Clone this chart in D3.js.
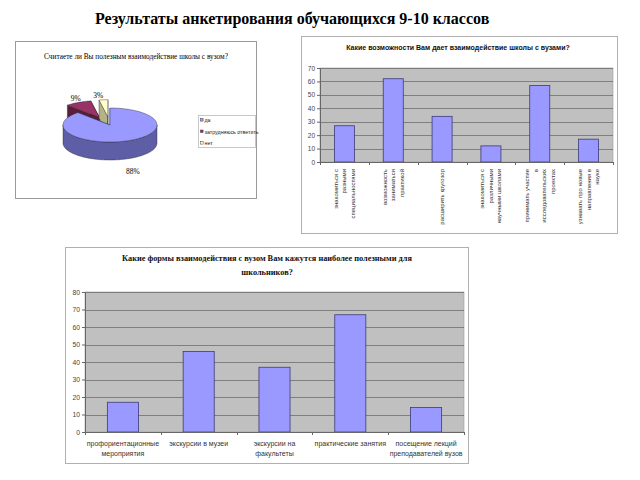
<!DOCTYPE html>
<html><head><meta charset="utf-8">
<script src="https://cdn.jsdelivr.net/npm/d3@7"></script>
<style>html,body{margin:0;padding:0;background:#fff;}svg{display:block;}</style>
</head><body>
<script>
// ---------- DATA ----------
const mainTitle = "Результаты анкетирования обучающихся 9-10 классов";

const pieTitle = "Считаете ли Вы полезным взаимодействие школы с вузом?";
const pieCategories = ["да", "затрудняюсь ответить", "нет"];
const pieValues = [88, 9, 3];
const pieColors = ["#9999FF", "#993366", "#FFFFCC"];
const pieSideColors = ["#5E5EA6", "#5A1E3C", "#B3B386"];
const pieExploded = [false, true, true];

const chart2Title = "Какие возможности Вам дает взаимодействие школы с вузами?";
const chart2Categories = [
  ["знакомиться с", "разными", "специальностями"],
  ["возможность", "заниматься", "практикой"],
  ["расширить кругозор"],
  ["знакомиться с", "различными", "научными школами"],
  ["принимать участие", "в", "исследовательских", "проектах"],
  ["узнавать про новые", "направления в", "науке"]
];
const chart2Values = [27, 62, 34, 12, 57, 17];
const chart2Ticks = [0, 10, 20, 30, 40, 50, 60, 70];

const chart3Title = ["Какие формы взаимодействия с вузом Вам кажутся наиболее полезными для", "школьников?"];
const chart3Categories = [
  ["профориентационные", "мероприятия"],
  ["экскурсии в музеи"],
  ["экскурсии на", "факультеты"],
  ["практические занятия"],
  ["посещение лекций", "преподавателей вузов"]
];
const chart3Values = [17, 46, 37, 67, 14];
const chart3Ticks = [0, 10, 20, 30, 40, 50, 60, 70, 80];

// ---------- DRAW ----------
const W = 640, H = 480;
const svg = d3.select("body").append("svg").attr("width", W).attr("height", H);
svg.append("rect").attr("width", W).attr("height", H).attr("fill", "#fff");

svg.append("text").attr("x", 95).attr("y", 24)
  .attr("font-family", "Liberation Serif, Times New Roman, serif")
  .attr("font-weight", "bold").attr("font-size", 16).attr("fill", "#000")
  .text(mainTitle);

// ---- Pie panel ----
const pie = svg.append("g");
pie.append("rect").attr("x", 15.5).attr("y", 41.5).attr("width", 241).attr("height", 157)
  .attr("fill", "#fff").attr("stroke", "#9a9a9a");
pie.append("text").attr("x", 136).attr("y", 59).attr("text-anchor", "middle")
  .attr("font-family", "Liberation Serif, serif").attr("font-size", 7.3).attr("fill", "#000")
  .text(pieTitle);

const cx = 110, cy = 125, rx = 47, ry = 17, depth = 18, explode = 23;
const arcs = d3.pie().sort(null).value(d => d)(pieValues);
function pt(a, r, ox, oy, dz) {
  return [cx + ox + rx * r * Math.sin(a), cy + oy - ry * r * Math.cos(a) + dz];
}
function arcPts(a0, a1, ox, oy, dz) {
  const n = Math.max(2, Math.ceil((a1 - a0) / 0.03));
  return d3.range(n + 1).map(i => pt(a0 + (a1 - a0) * i / n, 1, ox, oy, dz));
}
const line = d3.line().curve(d3.curveLinear);
// draw back (exploded small) slices first
const order = [1, 2, 0];
order.forEach(i => {
  const a = arcs[i];
  const mid = (a.startAngle + a.endAngle) / 2;
  const ox = pieExploded[i] ? explode * Math.sin(mid) : 0;
  const oy = pieExploded[i] ? -explode * Math.cos(mid) * ry / rx : 0;
  const g = pie.append("g");
  // radial faces
  [a.startAngle, a.endAngle].forEach(ang => {
    const c0 = [cx + ox, cy + oy];
    const r0 = pt(ang, 1, ox, oy, 0);
    g.append("path").attr("d", line([c0, r0, [r0[0], r0[1] + depth], [c0[0], c0[1] + depth]]) + "Z")
      .attr("fill", pieSideColors[i]).attr("stroke", "#222").attr("stroke-width", 0.4);
  });
  // outer wall (front visible portion)
  const s = Math.max(a.startAngle, Math.PI / 2), e = Math.min(a.endAngle, 3 * Math.PI / 2);
  if (s < e) {
    const top = arcPts(s, e, ox, oy, 0);
    const bot = arcPts(s, e, ox, oy, depth).reverse();
    g.append("path").attr("d", line(top.concat(bot)) + "Z")
      .attr("fill", pieSideColors[i]).attr("stroke", "#222").attr("stroke-width", 0.4);
  }
  // top face
  const topPts = [[cx + ox, cy + oy]].concat(arcPts(a.startAngle, a.endAngle, ox, oy, 0));
  g.append("path").attr("d", line(topPts) + "Z")
    .attr("fill", pieColors[i]).attr("stroke", "#222").attr("stroke-width", 0.4);
});
// pie labels
arcs.forEach((a, i) => {
  const mid = (a.startAngle + a.endAngle) / 2;
  const front = Math.cos(mid) < 0;
  const x = cx + 62 * Math.sin(mid) + (pieExploded[i] ? -6 : 0);
  const y = cy - 30 * Math.cos(mid) + (front ? depth : 0) + 3;
  pie.append("text").attr("x", x).attr("y", y).attr("text-anchor", "middle")
    .attr("font-family", "Liberation Serif, serif").attr("font-size", 7.5).attr("fill", "#000")
    .text(d3.format("d")(pieValues[i]) + "%");
});
// legend
const lg = pie.append("g");
lg.append("rect").attr("x", 198.5).attr("y", 115.5).attr("width", 57).attr("height", 32)
  .attr("fill", "#fff").attr("stroke", "#bbb").attr("stroke-width", 0.8);
pieCategories.forEach((c, i) => {
  const yy = 121 + i * 11.5;
  lg.append("rect").attr("x", 200.5).attr("y", yy - 2.5).attr("width", 2.6).attr("height", 2.6)
    .attr("fill", pieColors[i]).attr("stroke", "#222").attr("stroke-width", 0.4);
  lg.append("text").attr("x", 204.5).attr("y", yy + 1)
    .attr("font-family", "Liberation Sans, Arial, sans-serif").attr("font-size", 5.3).attr("fill", "#222")
    .text(c);
});

// ---- Bar chart helper ----
function barChart(opt) {
  const g = svg.append("g");
  g.append("rect").attr("x", opt.px0 + 0.5).attr("y", opt.py0 + 0.5)
    .attr("width", opt.px1 - opt.px0).attr("height", opt.py1 - opt.py0)
    .attr("fill", "#fff").attr("stroke", "#b0b0b0");
  const x = d3.scaleBand().domain(d3.range(opt.values.length)).range([opt.x0, opt.x1]).padding(0);
  const y = d3.scaleLinear().domain([0, d3.max(opt.ticks)]).range([opt.y1, opt.y0]);
  g.append("rect").attr("x", opt.x0).attr("y", opt.y0).attr("width", opt.x1 - opt.x0)
    .attr("height", opt.y1 - opt.y0).attr("fill", "#C0C0C0").attr("stroke", "#9a9a9a").attr("stroke-width", 0.6);
  g.selectAll(".grid").data(opt.ticks.filter(t => t > 0)).join("line")
    .attr("x1", opt.x0).attr("x2", opt.x1)
    .attr("y1", d => Math.round(y(d)) + 0.5).attr("y2", d => Math.round(y(d)) + 0.5)
    .attr("stroke", "#6e6e6e").attr("stroke-width", 0.8);
  const bw = x.bandwidth() * 0.41;
  g.selectAll(".bar").data(opt.values).join("rect")
    .attr("x", (d, i) => x(i) + (x.bandwidth() - bw) / 2)
    .attr("y", d => y(d)).attr("width", bw).attr("height", d => y(0) - y(d))
    .attr("fill", "#9999FF").attr("stroke", "#3b3b7a").attr("stroke-width", 0.8);
  // y axis
  const ya = g.append("g").attr("transform", `translate(${opt.x0},0)`)
    .call(d3.axisLeft(y).tickValues(opt.ticks).tickSize(3).tickPadding(2));
  ya.select(".domain").attr("stroke", "#666");
  ya.selectAll(".tick line").attr("stroke", "#666");
  ya.selectAll("text").attr("font-family", "Liberation Sans, Arial, sans-serif")
    .attr("font-size", opt.tickFont).attr("fill", "#444");
  // x axis line + category ticks at boundaries
  g.append("line").attr("x1", opt.x0).attr("x2", opt.x1).attr("y1", opt.y1 + 0.5).attr("y2", opt.y1 + 0.5)
    .attr("stroke", "#666");
  const bounds = d3.range(opt.values.length).map(i => x(i)).concat([opt.x1]);
  g.selectAll(".xt").data(bounds).join("line")
    .attr("x1", d => Math.round(d) + 0.5).attr("x2", d => Math.round(d) + 0.5)
    .attr("y1", opt.y1).attr("y2", opt.y1 + 3).attr("stroke", "#666");
  // title
  opt.title.forEach((t, i) => {
    g.append("text").attr("x", opt.titleX).attr("y", opt.titleY + i * opt.titleLH)
      .attr("text-anchor", "middle").attr("font-family", opt.titleFamily)
      .attr("font-weight", "bold").attr("font-size", opt.titleSize).attr("fill", "#111")
      .text(t);
  });
  // category labels
  opt.categories.forEach((lines, i) => {
    const cxm = x(i) + x.bandwidth() / 2;
    if (opt.rotate) {
      const n = lines.length;
      lines.forEach((l, j) => {
        const xx = cxm + (j - (n - 1) / 2) * opt.catLH + 2;
        g.append("text").attr("transform", `translate(${xx},${opt.y1 + 7}) rotate(-90)`)
          .attr("text-anchor", "end").attr("font-family", "Liberation Sans, Arial, sans-serif")
          .attr("font-size", opt.catFont).attr("fill", "#333").text(l);
      });
    } else {
      lines.forEach((l, j) => {
        g.append("text").attr("x", cxm).attr("y", opt.y1 + 14 + j * opt.catLH)
          .attr("text-anchor", "middle").attr("font-family", "Liberation Sans, Arial, sans-serif")
          .attr("font-size", opt.catFont).attr("fill", "#333").text(l);
      });
    }
  });
}

barChart({
  px0: 301, py0: 36, px1: 617, py1: 233,
  x0: 320, x1: 613, y0: 68, y1: 162,
  values: chart2Values, ticks: chart2Ticks, categories: chart2Categories,
  title: [chart2Title], titleX: 458, titleY: 50, titleLH: 10, titleSize: 7,
  titleFamily: "Liberation Sans, Arial, sans-serif",
  tickFont: 6.5, catFont: 6, catLH: 8.5, rotate: true
});

barChart({
  px0: 65, py0: 247, px1: 468, py1: 463,
  x0: 85, x1: 464, y0: 292, y1: 432,
  values: chart3Values, ticks: chart3Ticks, categories: chart3Categories,
  title: chart3Title, titleX: 267, titleY: 261, titleLH: 13.5, titleSize: 8.3,
  titleFamily: "Liberation Serif, Times New Roman, serif",
  tickFont: 6.8, catFont: 7, catLH: 10, rotate: false
});
</script>
</body></html>
